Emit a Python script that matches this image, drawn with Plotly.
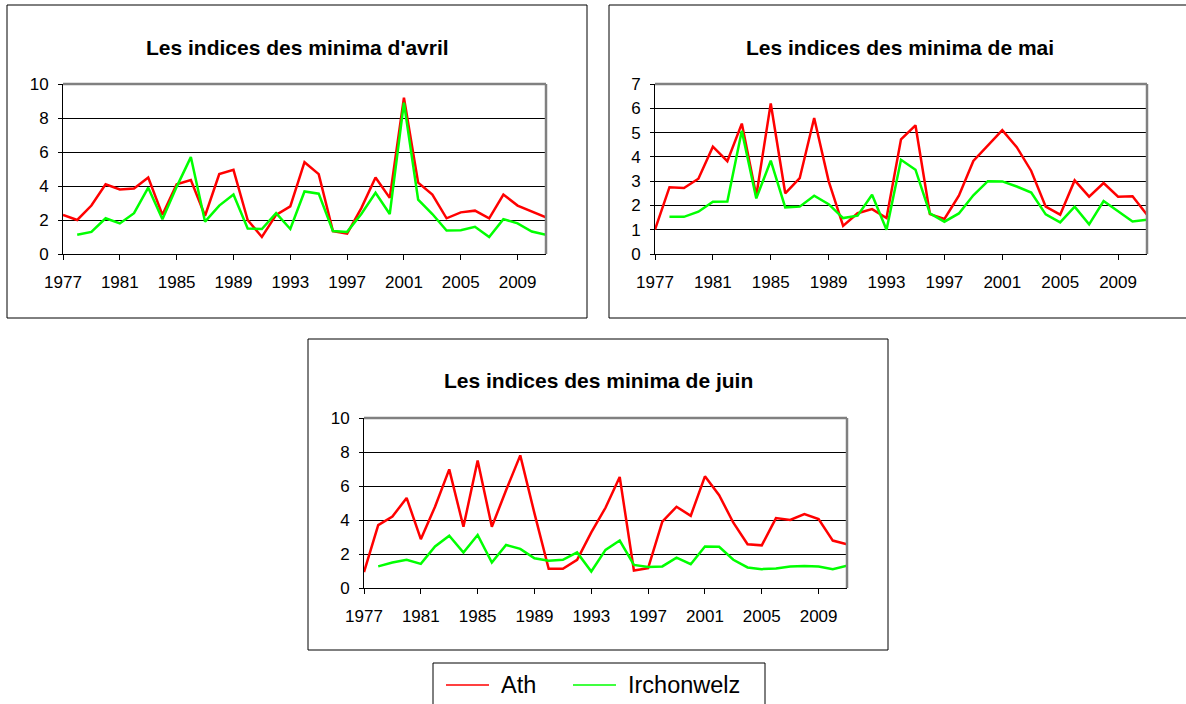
import plotly.graph_objects as go

W, H = 1186, 704

years = list(range(1977, 2012))

# Avril
ath_avril = [2.3, 2.0, 2.85, 4.1, 3.8, 3.85, 4.5, 2.3, 4.1, 4.35, 2.25, 4.7, 4.95, 2.0, 1.0,
             2.3, 2.8, 5.4, 4.7, 1.35, 1.2, 2.7, 4.5, 3.3, 9.2, 4.2, 3.5, 2.1, 2.45, 2.55,
             2.1, 3.5, 2.85, 2.5, 2.15]
irch_avril = [None, 1.13, 1.3, 2.1, 1.8, 2.4, 3.9, 2.05, 3.95, 5.7, 1.9, 2.85, 3.5, 1.5, 1.47,
              2.4, 1.47, 3.68, 3.55, 1.35, 1.3, 2.35, 3.6, 2.35, 8.9, 3.2, 2.35, 1.38, 1.4, 1.6,
              1.0, 2.05, 1.8, 1.32, 1.13]

# Mai
ath_mai = [1.0, 2.75, 2.72, 3.1, 4.42, 3.82, 5.37, 2.4, 6.2, 2.5, 3.12, 5.6, 3.0, 1.16, 1.68,
           1.85, 1.48, 4.72, 5.3, 1.64, 1.44, 2.4, 3.83, 4.45, 5.1, 4.4, 3.42, 1.95, 1.62, 3.03,
           2.36, 2.92, 2.36, 2.38, 1.62]
irch_mai = [None, 1.53, 1.53, 1.74, 2.15, 2.16, 5.07, 2.29, 3.84, 1.92, 1.95, 2.4, 2.05, 1.48, 1.58,
            2.44, 1.0, 3.88, 3.47, 1.67, 1.33, 1.67, 2.42, 3.0, 2.99, 2.78, 2.53, 1.63, 1.3, 1.95,
            1.22, 2.18, 1.75, 1.34, 1.41]

# Juin
ath_juin = [0.94, 3.7, 4.2, 5.3, 2.87, 4.78, 6.98, 3.6, 7.5, 3.6, 5.75, 7.8, 4.39, 1.13, 1.13,
            1.66, 3.27, 4.72, 6.53, 1.03, 1.17, 3.9, 4.78, 4.25, 6.57, 5.46, 3.84, 2.57, 2.51, 4.11,
            4.0, 4.35, 4.05, 2.79, 2.57]
irch_juin = [None, 1.27, 1.5, 1.66, 1.42, 2.44, 3.08, 2.09, 3.12, 1.5, 2.53, 2.3, 1.75, 1.6, 1.66,
             2.09, 0.97, 2.24, 2.79, 1.36, 1.23, 1.27, 1.79, 1.4, 2.44, 2.42, 1.66, 1.21, 1.11, 1.15,
             1.27, 1.29, 1.27, 1.11, 1.31]

titles = ["Les indices des minima d'avril", "Les indices des minima de mai",
          "Les indices des minima de juin"]
series_names = ["Ath", "Irchonwelz"]
colors = ["#FF0000", "#00FF00"]
ymax = [10, 7, 10]
ystep = [2, 1, 2]

FONT = "Liberation Sans, Arial, sans-serif"

# pixel boxes: (left, top, right, bottom) for frame and plot area
frames = [(7, 5, 587, 318), (609, 5, 1190, 318), (308, 339, 888, 650)]
plots = [(63, 84, 546, 254), (655, 84, 1147, 254), (364, 418, 847, 588)]


def px(x):
    return x / W


def py(y):
    return 1 - y / H


fig = go.Figure()

data = [(ath_avril, irch_avril), (ath_mai, irch_mai), (ath_juin, irch_juin)]
for i, (ath, irch) in enumerate(data):
    sfx = "" if i == 0 else str(i + 1)
    for vals, name, col in zip((ath, irch), series_names, colors):
        fig.add_trace(go.Scatter(x=years, y=vals, mode="lines", name=name,
                                 line=dict(color=col, width=2.5),
                                 xaxis="x" + sfx, yaxis="y" + sfx,
                                 showlegend=False, connectgaps=False))

shapes = []
annotations = []
for i in range(3):
    sfx = "" if i == 0 else str(i + 1)
    l, t, r, b = plots[i]
    fig.layout["xaxis" + sfx] = dict(
        domain=[px(l), px(r)], anchor="y" + sfx, range=[1977, 2011],
        tick0=1977, dtick=4, showgrid=False, zeroline=False, automargin=False,
        showline=True, linecolor="black", linewidth=1,
        ticks="outside", ticklen=5, tickcolor="black",
        tickfont=dict(family=FONT, size=17, color="black"),
        ticklabelstandoff=8)
    fig.layout["yaxis" + sfx] = dict(
        domain=[py(b), py(t)], anchor="x" + sfx, range=[0, ymax[i]],
        dtick=ystep[i], showgrid=True, gridcolor="black", gridwidth=1,
        zeroline=False, showline=True, linecolor="black", linewidth=1,
        ticks="outside", ticklen=4, tickcolor="black", automargin=False,
        tickfont=dict(family=FONT, size=17, color="black"),
        ticklabelstandoff=6)
    fl, ft, fr, fb = frames[i]
    shapes.append(dict(type="rect", xref="paper", yref="paper", layer="below",
                       x0=px(fl), x1=px(fr), y0=py(fb), y1=py(ft),
                       line=dict(color="black", width=1), fillcolor="white"))
    # grey frame on top and right of the plot area
    shapes.append(dict(type="line", xref="paper", yref="paper",
                       x0=px(l), x1=px(r), y0=py(t), y1=py(t),
                       line=dict(color="#808080", width=2.5)))
    shapes.append(dict(type="line", xref="paper", yref="paper",
                       x0=px(r), x1=px(r), y0=py(t), y1=py(b),
                       line=dict(color="#808080", width=2.5)))
    annotations.append(dict(text="<b>" + titles[i] + "</b>", xref="paper", yref="paper",
                            x=px((fl + fr) / 2), y=py(ft + 42), showarrow=False,
                            xanchor="center", yanchor="middle",
                            font=dict(family=FONT, size=21, color="black")))

# legend box
shapes.append(dict(type="rect", xref="paper", yref="paper",
                   x0=px(433), x1=px(765), y0=py(712), y1=py(663),
                   line=dict(color="black", width=1), fillcolor="white"))
legend_x = [446, 573]
for name, col, lx in zip(series_names, colors, legend_x):
    shapes.append(dict(type="line", xref="paper", yref="paper",
                       x0=px(lx), x1=px(lx + 43), y0=py(685), y1=py(685),
                       line=dict(color=col, width=1.5)))
    annotations.append(dict(text=name, xref="paper", yref="paper",
                            x=px(lx + 53), y=py(685), showarrow=False,
                            xanchor="left", yanchor="middle",
                            font=dict(family=FONT, size=23.5, color="black")))

fig.update_layout(width=W, height=H, margin=dict(l=0, r=0, t=0, b=0, autoexpand=False),
                  paper_bgcolor="white", plot_bgcolor="#C0C0C0",
                  shapes=shapes, annotations=annotations, showlegend=False)

# drop the page's default body margin so the figure sits in the window corner
fig.write_html("out.html", config={"displayModeBar": False},
               post_script="document.body.style.margin = '0';")
